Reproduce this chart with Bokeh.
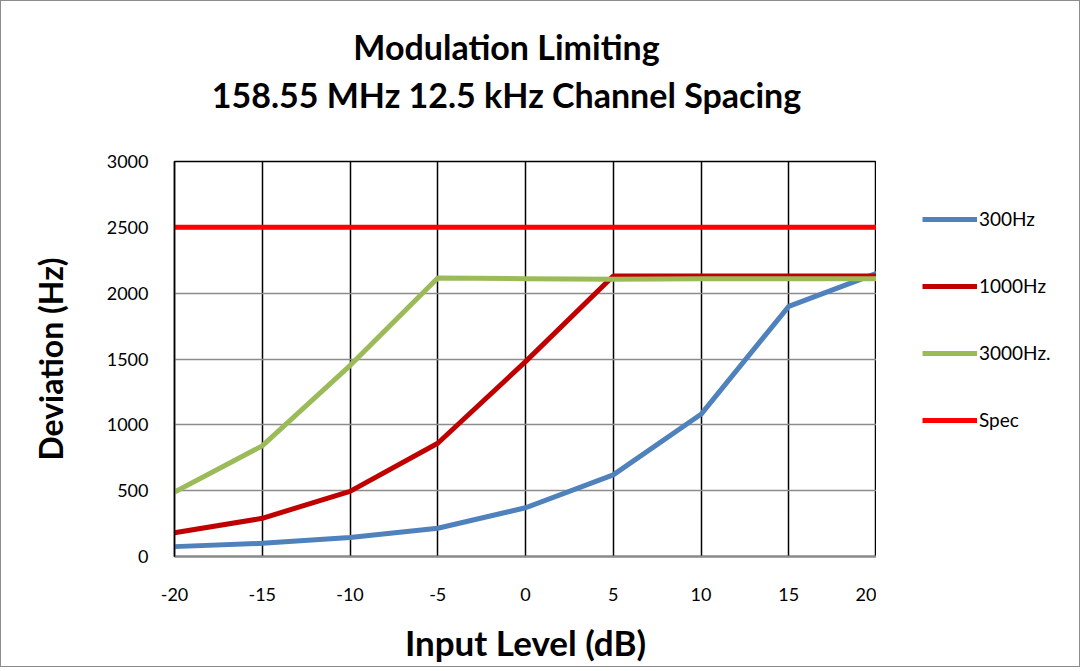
from bokeh.plotting import figure
from bokeh.layouts import row, column
from bokeh.models import Legend, LegendItem, Label, FixedTicker, Range1d
from bokeh.embed import file_html
from bokeh.resources import INLINE

x_levels = [-20, -15, -10, -5, 0, 5, 10, 15, 20]
dev_300 = [75, 100, 145, 215, 370, 620, 1080, 1900, 2150]
dev_1000 = [180, 290, 495, 860, 1480, 2130, 2130, 2130, 2130]
dev_3000 = [490, 840, 1450, 2115, 2110, 2105, 2110, 2110, 2110]
spec = [2500, 2500, 2500, 2500, 2500, 2500, 2500, 2500, 2500]
series_names = ["300Hz", "1000Hz", "3000Hz.", "Spec"]
series_colors = ["#4F81BD", "#C00000", "#9BBB59", "#FF0000"]
x_ticks = [-20, -15, -10, -5, 0, 5, 10, 15, 20]
x_tick_labels = ["-20", "-15", "-10", "-5", "0", "5", "10", "15", "20"]
y_ticks = [0, 500, 1000, 1500, 2000, 2500, 3000]
title_line1 = "Modulation Limiting"
title_line2 = "158.55 MHz 12.5 kHz Channel Spacing"

FONT = "Lato"
W = 1078
TOP_H = 145
MAIN_H = 520
PLOT_W = 875

# ---- title strip ----
pt = figure(width=W, height=TOP_H, output_backend="svg", toolbar_location=None,
            x_range=Range1d(0, W), y_range=Range1d(TOP_H, 0),
            min_border_left=0, min_border_right=0, min_border_top=0, min_border_bottom=0,
            x_axis_type=None, y_axis_type=None)
pt.outline_line_color = None
pt.grid.visible = False
pt.border_fill_color = "white"
for txt, yy in zip([title_line1, title_line2], [45, 93]):
    pt.add_layout(Label(x=505, y=yy, text=txt, text_align="center", text_baseline="middle",
                        text_font=FONT, text_font_size="34px", text_font_style="bold",
                        text_color="black"))

# ---- main chart ----
p = figure(width=PLOT_W, height=MAIN_H, output_backend="svg", toolbar_location=None,
           x_range=Range1d(-20, 20), y_range=Range1d(0, 3000),
           min_border_left=173, min_border_right=0, min_border_top=10,
           min_border_bottom=MAIN_H - 10 - 400)
p.background_fill_color = "white"
p.border_fill_color = "white"
p.outline_line_color = "black"
p.outline_line_width = 1.5

p.xaxis.ticker = FixedTicker(ticks=x_ticks)
p.yaxis.ticker = FixedTicker(ticks=y_ticks)
p.xaxis.major_label_overrides = {t: s for t, s in zip(x_ticks, x_tick_labels)}
p.xgrid.ticker = FixedTicker(ticks=x_ticks)
p.ygrid.ticker = FixedTicker(ticks=y_ticks)
p.xgrid.grid_line_color = "black"
p.xgrid.grid_line_width = 1.5
p.ygrid.grid_line_color = "#8c8c8c"
p.ygrid.grid_line_width = 1.5

for ax in (p.xaxis, p.yaxis):
    ax.major_tick_line_color = None
    ax.minor_tick_line_color = None
    ax.major_label_text_font = FONT
    ax.major_label_text_font_size = "18px"
    ax.major_label_text_color = "black"
    ax.axis_label_text_font = FONT
    ax.axis_label_text_font_style = "bold"
    ax.axis_label_text_color = "black"
p.xaxis.axis_label_text_font_size = "35px"
p.yaxis.axis_label_text_font_size = "32px"
p.xaxis.axis_line_color = "#8c8c8c"
p.xaxis.axis_line_width = 2
p.yaxis.axis_line_color = "black"
p.yaxis.axis_line_width = 1.5
p.xaxis.axis_label = "Input Level (dB)"
p.yaxis.axis_label = "Deviation (Hz)"
p.xaxis.major_label_standoff = 25
p.yaxis.major_label_standoff = 20
p.xaxis.axis_label_standoff = 17
p.yaxis.axis_label_standoff = 34

for ys, c in zip([dev_300, dev_1000, dev_3000, spec], series_colors):
    p.line(x_levels, ys, line_color=c, line_width=5)

# ---- legend panel (dummy lines lie outside its ranges; only the legend shows) ----
pl = figure(width=W - PLOT_W, height=MAIN_H, output_backend="svg", toolbar_location=None,
            x_range=Range1d(0, 1), y_range=Range1d(0, 1),
            min_border_left=0, min_border_right=0, min_border_top=15, min_border_bottom=0,
            x_axis_type=None, y_axis_type=None)
pl.outline_line_color = None
pl.grid.visible = False
pl.border_fill_color = "white"
leg_r = [pl.line([5, 6], [5, 6], line_color=c, line_width=5) for c in series_colors]
legend = Legend(items=[LegendItem(label=n, renderers=[r]) for n, r in zip(series_names, leg_r)],
                location="top_left", glyph_width=55, glyph_height=20, label_height=20,
                spacing=44, label_text_font=FONT, label_text_font_size="19px", label_standoff=2,
                label_text_color="black",
                border_line_color=None, background_fill_alpha=0, padding=0, margin=46)
pl.add_layout(legend, "center")

layout = column(pt, row(p, pl), styles={"border": "1.5px solid #8c8c8c"})
open("out.html", "w").write(file_html(layout, INLINE))
